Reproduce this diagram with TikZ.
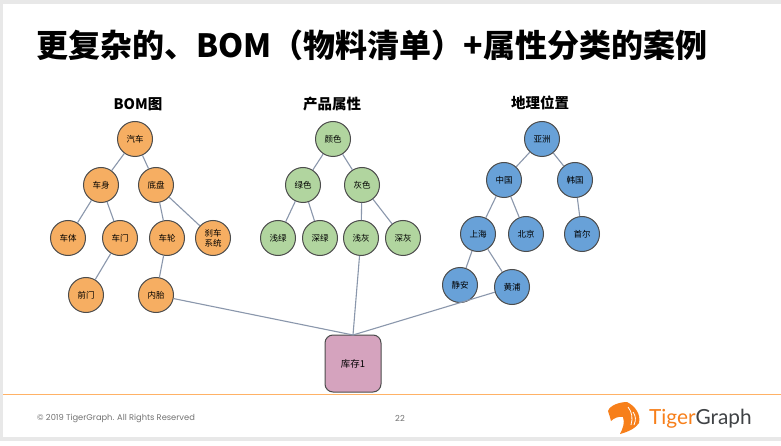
\documentclass[tikz,border=0pt]{standalone}
\usepackage{fontspec}
\setmainfont{Noto Sans CJK SC}
\newfontfamily\latinb{Lato}
\newfontfamily\footf{Poppins}
\definecolor{orange1}{HTML}{F6AE62}
\definecolor{green1}{HTML}{B1D59F}
\definecolor{blue1}{HTML}{68A1D8}
\definecolor{pink1}{HTML}{D5A3BE}
\definecolor{edgec}{HTML}{8A97AC}
\definecolor{tgo}{HTML}{F77F1A}
\definecolor{tgg}{HTML}{3F4245}
\begin{document}
\begin{tikzpicture}[x=1pt,y=-1pt,
  nd/.style={circle,draw=black!70,line width=1pt,minimum size=35pt,inner sep=0pt,font=\fontsize{8.5}{9.5}\selectfont,align=center},
  org/.style={nd,fill=orange1},
  grn/.style={nd,fill=green1},
  blu/.style={nd,fill=blue1},
  lnk/.style={draw=edgec,line width=1.1pt},
  hd/.style={font=\fontsize{14.5}{17}\selectfont\bfseries,text=black},
  foottxt/.style={font=\footf\fontsize{8.3}{10}\selectfont,text=black!55,inner sep=0pt}]
\useasboundingbox (0,0) rectangle (781,446);
\fill[gray!18] (0,0) rectangle (781,441);
\fill[white] (0,441) rectangle (781,446);
\fill[white] (3,4) rectangle (781,437);
\node[font=\fontsize{32}{36}\selectfont\bfseries,anchor=west,inner sep=0pt] (title) at (36,45) {更复杂的、BOM（物料清单）+属性分类的案例};
\node[hd] (h1) at (138,104) {BOM图};
\node[hd] (h2) at (332,104) {产品属性};
\node[hd] (h3) at (540,103) {地理位置};
\node[org] (a0) at (135,139) {汽车};
\node[org] (a1) at (101,185) {车身};
\node[org] (a2) at (156,185) {底盘};
\node[org] (a3) at (68,238) {车体};
\node[org] (a4) at (120,238) {车门};
\node[org] (a5) at (167,238) {车轮};
\node[org] (a6) at (213,238) {刹车\\系统};
\node[org] (a7) at (86,295) {前门};
\node[org] (a8) at (156,295) {内胎};
\node[grn] (b0) at (333,139) {颜色};
\node[grn] (b1) at (303,185) {绿色};
\node[grn] (b2) at (362,185) {灰色};
\node[grn] (b3) at (278,238) {浅绿};
\node[grn] (b4) at (320,238) {深绿};
\node[grn] (b5) at (361,238) {浅灰};
\node[grn] (b6) at (403,238) {深灰};
\node[blu] (c0) at (542,139) {亚洲};
\node[blu] (c1) at (504,180) {中国};
\node[blu] (c2) at (575,180) {韩国};
\node[blu] (c3) at (478,234) {上海};
\node[blu] (c4) at (526,234) {北京};
\node[blu] (c5) at (582,234) {首尔};
\node[blu] (c6) at (460,285) {静安};
\node[blu] (c7) at (512,287) {黄浦};
\node[draw=black!70,line width=1pt,fill=pink1,rounded corners=8pt,minimum width=56pt,minimum height=57pt,inner sep=0pt,font=\fontsize{9.5}{11}\selectfont] (inv) at (353,363.5) {库存1};
\coordinate (invtop) at (353,335);
\foreach \p/\q in {a0/a1,a0/a2,a1/a3,a1/a4,a2/a5,a2/a6,a4/a7,a5/a8,b0/b1,b0/b2,b1/b3,b1/b4,b2/b5,b2/b6,c0/c1,c0/c2,c1/c3,c1/c4,c2/c5,c3/c6,c3/c7}
  \draw[lnk] (\p) -- (\q);
\draw[lnk] (a8) -- (invtop);
\draw[lnk] (b5) -- (invtop);
\draw[lnk] (c7) -- (invtop);
\draw[orange!60!white,line width=1.2pt] (3,394.5) -- (781,394.5);
\node[foottxt,anchor=west] (copy) at (37,418) {© 2019 TigerGraph. All Rights Reserved};
\node[foottxt] (pg) at (400,418) {22};
\fill[tgo] (608,411) .. controls (610,405) and (620,402) .. (627,402) .. controls (635,406) and (641,414) .. (639,423) .. controls (636,428) and (628,432) .. (620,434) .. controls (623,428) and (625,423) .. (623,417) .. controls (619,416) and (614,418) .. (611,421) .. controls (610,417) and (609,414) .. (608,411) -- cycle;
\draw[white,line width=0.8pt] (628,407) .. controls (632,412) and (633,418) .. (631,425);
\draw[white,line width=0.8pt] (633,412) .. controls (636,416) and (636,420) .. (634,425);
\node[font=\latinb\fontsize{20.8}{24}\selectfont,anchor=west,inner sep=0pt] (logo) at (649,419) {\textcolor{tgo}{Tiger}\textcolor{tgg}{Graph}};
\end{tikzpicture}
\end{document}
